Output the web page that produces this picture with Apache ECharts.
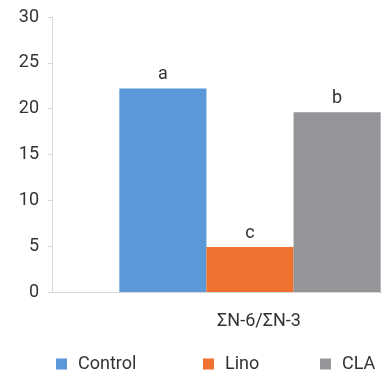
<!DOCTYPE html>
<html><head><meta charset="utf-8">
<script src="https://cdn.jsdelivr.net/npm/echarts@6/dist/echarts.min.js"></script>
<style>html,body{margin:0;padding:0;background:#fff}#c{width:382px;height:374px}</style>
</head><body><div id="c"></div>
<script>
const categories = ['ΣN-6/ΣN-3'];
const seriesNames = ['Control', 'Lino', 'CLA'];
const controlValues = [22.2];
const linoValues = [4.9];
const claValues = [19.6];
const letterLabels = ['a', 'c', 'b'];
const yTicks = [0, 5, 10, 15, 20, 25, 30];
const colors = ['#5b98d7', '#f07030', '#939598'];
const values = [controlValues, linoValues, claValues];

const chart = echarts.init(document.getElementById('c'));
const font = 'Roboto, "Liberation Sans", Arial, sans-serif';
chart.setOption({
  animation: false,
  grid: { left: 52, width: 396, top: 17, bottom: 82, outerBoundsMode: 'none', containLabel: false },
  legend: seriesNames.map((n, i) => ({
    data: [n], bottom: 1, left: [56, 203, 320][i], padding: 0,
    icon: 'rect', itemWidth: 11, itemHeight: 11, itemGap: 0,
    textStyle: { fontFamily: font, fontSize: 18, color: '#333', padding: [0,0,0,6] }
  })),
  xAxis: {
    type: 'category', data: categories,
    axisLine: { lineStyle: { color: '#d9d9d9' } },
    axisTick: { show: false },
    axisLabel: { fontFamily: font, fontSize: 18, color: '#333', margin: 20, padding: [0,0,0,18] }
  },
  yAxis: {
    type: 'value', min: yTicks[0], max: yTicks[yTicks.length - 1], interval: 5,
    splitLine: { show: false },
    axisLine: { show: true, lineStyle: { color: '#d9d9d9' } },
    axisTick: { show: true, length: 4, lineStyle: { color: '#d9d9d9' } },
    axisLabel: { fontFamily: font, fontSize: 18, color: '#333', margin: 13 }
  },
  series: seriesNames.map((n, i) => ({
    name: n, type: 'bar', data: values[i],
    barGap: '0%', barCategoryGap: '34%',
    itemStyle: { color: colors[i] },
    label: { show: true, position: 'top', distance: 5, formatter: letterLabels[i],
      fontFamily: font, fontSize: 18, color: '#333' }
  }))
});
</script></body></html>
